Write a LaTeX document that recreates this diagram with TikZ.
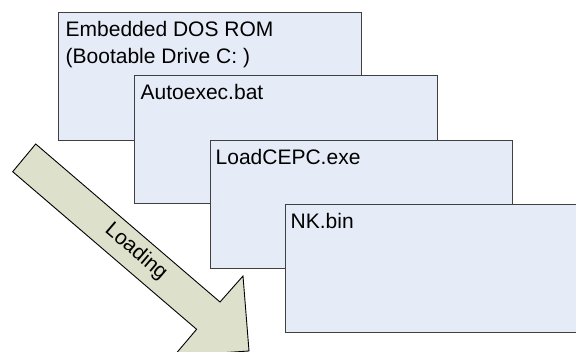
\documentclass[tikz,border=0pt]{standalone}
\usepackage{fontspec}
\setmainfont{Liberation Sans}
\definecolor{boxfill}{RGB}{230,236,247}
\definecolor{boxline}{RGB}{64,64,64}
\definecolor{arrowfill}{RGB}{221,224,202}
\begin{document}
\begin{tikzpicture}[x=1pt,y=-1pt,
  layer/.style={draw=boxline,fill=boxfill,line width=0.9pt,minimum width=302.5pt,minimum height=128pt,inner sep=0pt,anchor=north west},
  label/.style={anchor=base west,inner sep=0pt,font=\fontsize{21}{26.7}\selectfont}]
\useasboundingbox (0,0) rectangle (576,352);
\clip (0,0) rectangle (576,352);
\node[layer] (b1) at (58,11.7) {};
\node[label] (t1) at (65.5,36.7) {Embedded DOS ROM};
\node[label] (t1b) at (65.5,63.3) {(Bootable Drive C: )};
\node[layer] (b2) at (134,75) {};
\node[label] (t2) at (140.5,100) {Autoexec.bat};
\node[layer] (b3) at (209.5,140) {};
\node[label] (t3) at (215.5,165) {LoadCEPC.exe};
\node[layer] (b4) at (285,204) {};
\node[label] (t4) at (290.5,229) {NK.bin};
% block arrow
\coordinate (a1) at (35.7,144);
\coordinate (a2) at (220,302);
\coordinate (a3) at (243,276);
\coordinate (a4) at (249,351);
\coordinate (a5) at (174,356);
\coordinate (a6) at (196.6,329.3);
\coordinate (a7) at (12.7,171.7);
\draw[fill=arrowfill,draw=black,line width=0.9pt,line join=miter]
  (a1) -- (a2) -- (a3) -- (a4) -- (a5) -- (a6) -- (a7) -- cycle;
\node[rotate=-40.6,inner sep=0pt,font=\fontsize{21}{24}\selectfont] (load) at (136,252) {Loading};
\end{tikzpicture}
\end{document}
